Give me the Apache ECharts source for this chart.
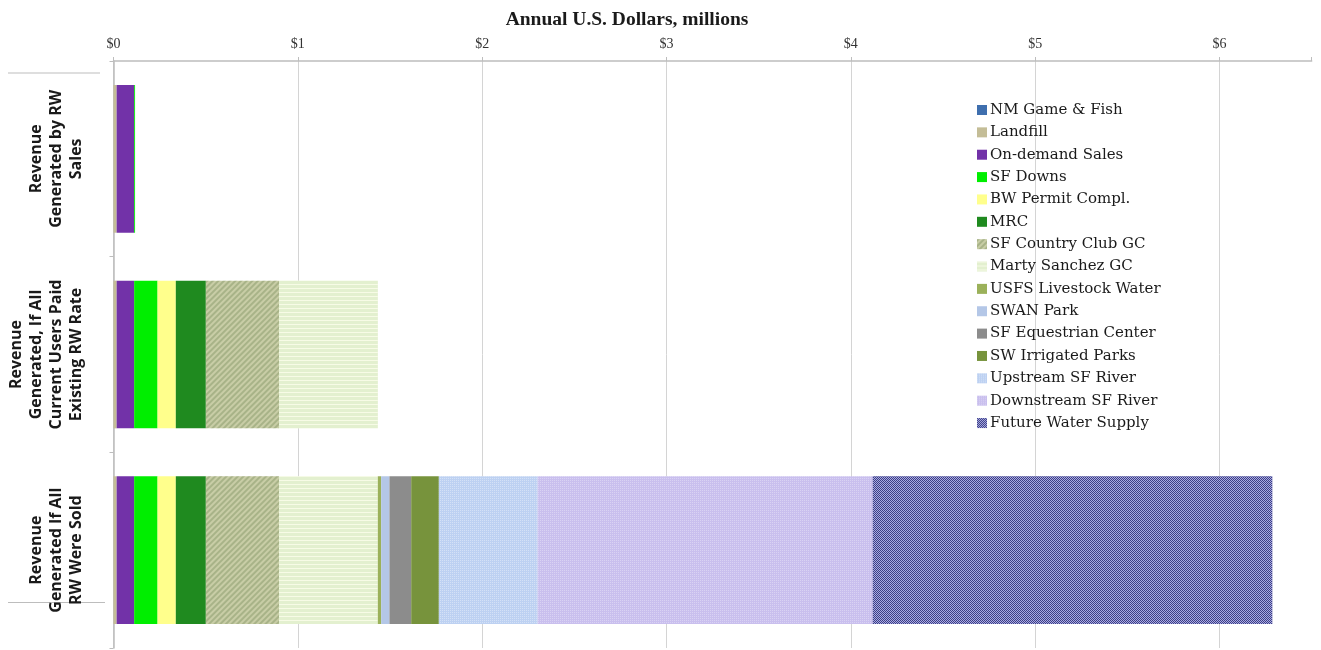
<!DOCTYPE html>
<html>
<head>
<meta charset="utf-8">
<script src="https://cdn.jsdelivr.net/npm/echarts@6/dist/echarts.min.js"></script>
<style>
html,body{margin:0;padding:0;background:#fff;}
#chart{width:1321px;height:650px;}
</style>
</head>
<body>
<div id="chart"></div>
<script>
var categories = [
  "Revenue\nGenerated by RW\nSales",
  "Revenue\nGenerated, If All\nCurrent Users Paid\nExisting RW Rate",
  "Revenue\nGenerated If All\nRW Were Sold"
];
var xTicks = [0, 1, 2, 3, 4, 5, 6];

var nmGameFish    = [0, 0, 0];
var landfill      = [0.017, 0.017, 0.017];
var onDemandSales = [0.095, 0.095, 0.095];
var sfDowns       = [0.005, 0.127, 0.127];
var bwPermit      = [0, 0.099, 0.099];
var mrc           = [0, 0.163, 0.163];
var sfCountryClub = [0, 0.397, 0.397];
var martySanchez  = [0, 0.536, 0.536];
var usfsLivestock = [0, 0, 0.018];
var swanPark      = [0, 0, 0.045];
var sfEquestrian  = [0, 0, 0.118];
var swIrrigated   = [0, 0, 0.150];
var upstreamSF    = [0, 0, 0.536];
var downstreamSF  = [0, 0, 1.818];
var futureWater   = [0, 0, 2.167];

var seriesDefs = [
  {name: "NM Game & Fish", data: nmGameFish, color: "#3f6fae"},
  {name: "Landfill", data: landfill, color: "#c4bd97"},
  {name: "On-demand Sales", data: onDemandSales, color: "#7232a8"},
  {name: "SF Downs", data: sfDowns, color: "#00ee00"},
  {name: "BW Permit Compl.", data: bwPermit, color: "#ffff8c"},
  {name: "MRC", data: mrc, color: "#1f8a1f"},
  {name: "SF Country Club GC", data: sfCountryClub, color: "#c8cda6",
    decal: {color: "rgba(120,140,90,0.4)", dashArrayX: [1, 0], dashArrayY: [2, 2], rotation: -Math.PI / 4}},
  {name: "Marty Sanchez GC", data: martySanchez, color: "#e3f0cf",
    decal: {color: "rgba(255,255,240,0.7)", dashArrayX: [1, 0], dashArrayY: [1, 3], rotation: 0}},
  {name: "USFS Livestock Water", data: usfsLivestock, color: "#9bb15a"},
  {name: "SWAN Park", data: swanPark, color: "#b4c7e7"},
  {name: "SF Equestrian Center", data: sfEquestrian, color: "#8c8c8c"},
  {name: "SW Irrigated Parks", data: swIrrigated, color: "#77933c"},
  {name: "Upstream SF River", data: upstreamSF, color: "#bdd1f2",
    decal: {color: "rgba(255,255,255,0.35)", dashArrayX: [1, 1], dashArrayY: [1, 1], rotation: 0}},
  {name: "Downstream SF River", data: downstreamSF, color: "#c9bfee",
    decal: {color: "rgba(255,255,255,0.3)", dashArrayX: [1, 1], dashArrayY: [1, 1], rotation: 0}},
  {name: "Future Water Supply", data: futureWater, color: "#3d3f84",
    decal: {color: "#a8aae2", dashArrayX: [[1, 1], [0, 1, 1, 0]], dashArrayY: [1, 0], rotation: 0}}
];

var chart = echarts.init(document.getElementById('chart'));

var series = seriesDefs.map(function (s) {
  var style = {color: s.color};
  if (s.decal) style.decal = Object.assign({symbol: 'rect', symbolSize: 1}, s.decal);
  return {
    name: s.name,
    type: 'bar',
    stack: 'total',
    data: s.data,
    barCategoryGap: '24.5%',
    itemStyle: style,
    emphasis: {disabled: true}
  };
});

var option = {
  animation: false,
  backgroundColor: '#ffffff',
  title: {
    text: 'Annual U.S. Dollars, millions',
    left: 622,
    top: 5,
    textAlign: 'center',
    textStyle: {fontFamily: 'Liberation Serif', fontWeight: 'bold', fontSize: 19.5, color: '#1a1a1a'}
  },
  legend: {
    orient: 'vertical',
    left: 972,
    top: 97,
    icon: 'rect',
    itemWidth: 10,
    itemHeight: 10,
    itemGap: 6.36,
    data: seriesDefs.map(function (s) { return s.name; }),
    textStyle: {fontFamily: 'DejaVu Serif', fontSize: 15, color: '#1a1a1a', lineHeight: 16, padding: [0, 0, 0, -2]}
  },
  grid: {left: 113.5, right: 9.3, top: 61, bottom: 2, containLabel: false},
  xAxis: {
    type: 'value',
    position: 'top',
    min: 0,
    max: 6.5,
    interval: 1,
    axisLine: {show: true, lineStyle: {color: '#bdbdbd', width: 1.5}},
    axisTick: {show: true, length: 4, lineStyle: {color: '#bdbdbd'}},
    axisLabel: {
      margin: 10,
      fontFamily: 'Liberation Serif',
      fontSize: 14,
      color: '#333',
      formatter: function (v) { return xTicks.indexOf(v) >= 0 ? '$' + v : ''; }
    },
    splitLine: {show: true, showMaxLine: false, lineStyle: {color: '#d4d4d4', width: 1}}
  },
  yAxis: {
    type: 'category',
    inverse: true,
    data: categories,
    axisLine: {show: true, lineStyle: {color: '#bdbdbd', width: 1.5}},
    axisTick: {show: true, length: 4, lineStyle: {color: '#bdbdbd'}},
    axisLabel: {
      rotate: 90,
      margin: 27,
      fontFamily: 'Open Sans',
      fontWeight: 'bold',
      fontSize: 16,
      lineHeight: 20,
      color: '#1a1a1a'
    }
  },
  graphic: [
    {type: 'line', shape: {x1: 8, y1: 73, x2: 100, y2: 73}, style: {stroke: '#bdbdbd', lineWidth: 1.2}},
    {type: 'line', shape: {x1: 8, y1: 602.5, x2: 105, y2: 602.5}, style: {stroke: '#bdbdbd', lineWidth: 1.2}}
  ],
  series: series
};

chart.setOption(option);
</script>
</body>
</html>
